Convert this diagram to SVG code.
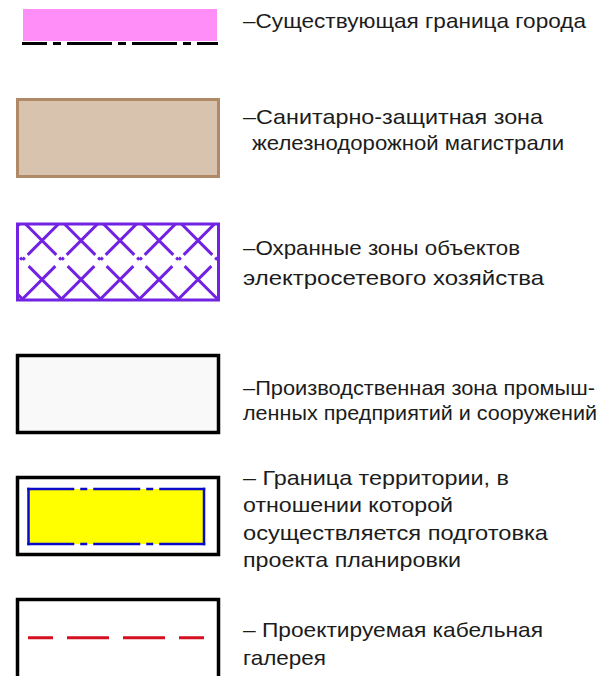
<svg xmlns="http://www.w3.org/2000/svg" width="613" height="676" viewBox="0 0 613 676">
<style>
text { font-family: "Liberation Sans", Arial, sans-serif; font-size: 21px; fill: #1c1c1c; }
.hatch { stroke: #7222e2; stroke-width: 3; fill: none; stroke-dasharray: 45 4 3 9 80; }
.frame { stroke: #000; stroke-width: 3.5; }
</style>
<defs>
<clipPath id="hc"><rect x="17.5" y="224" width="201" height="76"/></clipPath>
</defs>
<rect width="613" height="676" fill="#fff"/>

<g id="city-boundary">
<rect x="23" y="9" width="194" height="32" fill="#ff8ef9"/>
<line x1="22" y1="43.5" x2="218" y2="43.5" stroke="#000" stroke-width="3" stroke-dasharray="45 6 8 6" stroke-dashoffset="20"/>
<text x="243" y="28" textLength="343" lengthAdjust="spacingAndGlyphs">–Существующая граница города</text>
</g>

<g id="sanitary-zone">
<rect x="17.5" y="99.5" width="201" height="77" fill="#d8c4ae" stroke="#b08a66" stroke-width="3"/>
<text x="243" y="124" textLength="300" lengthAdjust="spacingAndGlyphs">–Санитарно-защитная зона</text>
<text x="252" y="150" textLength="312" lengthAdjust="spacingAndGlyphs">железнодорожной магистрали</text>
</g>

<g id="power-protection-zone">
<g clip-path="url(#hc)" class="hatch">
<line x1="-53.5" y1="223" x2="24.5" y2="301"/>
<line x1="-14.5" y1="223" x2="63.5" y2="301"/>
<line x1="24.5" y1="223" x2="102.5" y2="301"/>
<line x1="63.5" y1="223" x2="141.5" y2="301"/>
<line x1="102.5" y1="223" x2="180.5" y2="301"/>
<line x1="141.5" y1="223" x2="219.5" y2="301"/>
<line x1="180.5" y1="223" x2="258.5" y2="301"/>
<line x1="219.5" y1="223" x2="297.5" y2="301"/>
<line x1="20.5" y1="223" x2="-57.5" y2="301"/>
<line x1="59.5" y1="223" x2="-18.5" y2="301"/>
<line x1="98.5" y1="223" x2="20.5" y2="301"/>
<line x1="137.5" y1="223" x2="59.5" y2="301"/>
<line x1="176.5" y1="223" x2="98.5" y2="301"/>
<line x1="215.5" y1="223" x2="137.5" y2="301"/>
<line x1="254.5" y1="223" x2="176.5" y2="301"/>
<line x1="293.5" y1="223" x2="215.5" y2="301"/>
</g>
<rect x="17.5" y="224" width="201" height="76" fill="none" stroke="#7222e2" stroke-width="3"/>
<text x="243" y="255" textLength="277" lengthAdjust="spacingAndGlyphs">–Охранные зоны объектов</text>
<text x="243" y="285" textLength="301" lengthAdjust="spacingAndGlyphs">электросетевого хозяйства</text>
</g>

<g id="industrial-zone">
<rect x="17.5" y="355.5" width="201" height="77" fill="#f9f9f9" class="frame"/>
<text x="243" y="395" textLength="352" lengthAdjust="spacingAndGlyphs">–Производственная зона промыш-</text>
<text x="243" y="420" textLength="354" lengthAdjust="spacingAndGlyphs">ленных предприятий и сооружений</text>
</g>

<g id="planning-territory">
<rect x="17.5" y="477.5" width="201" height="77" fill="#fff" class="frame"/>
<rect x="28.5" y="489" width="175.5" height="55" fill="#ffff00"/>
<g stroke="#0a0ac8" stroke-width="2.5" fill="none">
<line x1="28.5" y1="487.75" x2="28.5" y2="545.25"/>
<line x1="204" y1="487.75" x2="204" y2="545.25"/>
<line x1="27.25" y1="489" x2="205.25" y2="489" stroke-dasharray="47 6 7 6"/>
<line x1="27.25" y1="544" x2="205.25" y2="544" stroke-dasharray="47 6 7 6"/>
</g>
<text x="243" y="485" textLength="266" lengthAdjust="spacingAndGlyphs">– Граница территории, в</text>
<text x="243" y="512" textLength="210" lengthAdjust="spacingAndGlyphs">отношении которой</text>
<text x="243" y="540" textLength="305" lengthAdjust="spacingAndGlyphs">осуществляется подготовка</text>
<text x="243" y="567" textLength="218" lengthAdjust="spacingAndGlyphs">проекта планировки</text>
</g>

<g id="cable-gallery">
<rect x="17.5" y="599.5" width="201" height="100" fill="#fff" class="frame"/>
<line x1="28" y1="637.7" x2="204" y2="637.7" stroke="#d41020" stroke-width="3" stroke-dasharray="42 14" stroke-dashoffset="17"/>
<text x="243" y="637" textLength="300" lengthAdjust="spacingAndGlyphs">– Проектируемая кабельная</text>
<text x="243" y="665" textLength="83" lengthAdjust="spacingAndGlyphs">галерея</text>
</g>
</svg>
